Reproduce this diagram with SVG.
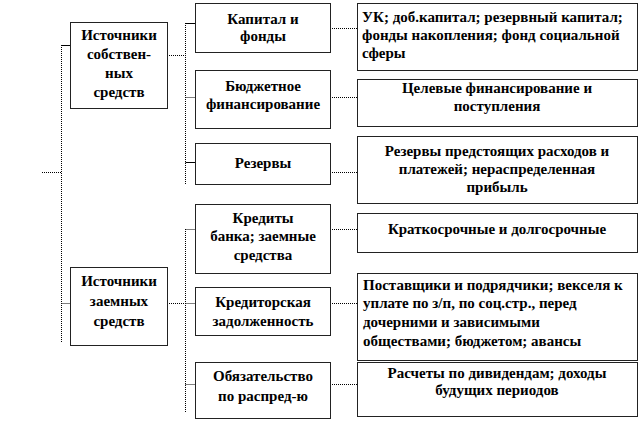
<svg xmlns="http://www.w3.org/2000/svg" width="640" height="422" viewBox="0 0 640 422">
<style>
.box{fill:#fff;stroke:#222;stroke-width:1}
text{font-family:'Liberation Serif',Tinos,'Times New Roman',serif;font-weight:700;font-size:15px;fill:#000}
.c{text-anchor:middle}
.d{fill:none;stroke:#000;stroke-width:1;stroke-dasharray:1,1}
.s{fill:none;stroke:#000;stroke-width:1}
</style>
<rect width="640" height="422" fill="#fff"/>
<g id="connectors">
<path class="d" d="M61.5,45 V342 M42,172.5 H61.5 M61.5,303.5 H70"/>
<path class="s" d="M61.5,45.5 H70"/>
<path class="d" d="M167,55.5 H185.5 M185.5,23 V185 M185.5,97.5 H195"/>
<path class="s" d="M185.5,23.5 H195 M185.5,162.5 H195"/>
<path class="d" d="M167,303.5 H185.5 M185.5,229 V412 M185.5,229.5 H195 M185.5,303.5 H195 M185.5,384.5 H195"/>
<path class="d" d="M330,28.5 H357 M330,97.5 H357 M330,172.5 H357 M330,229.5 H357 M330,303.5 H357 M330,384.5 H357"/>
</g>
<g id="own">
<rect class="box" x="70.5" y="22.5" width="97" height="86"/>
<text class="c" x="119" y="40">Источники</text>
<text class="c" x="119" y="59">собствен-</text>
<text class="c" x="119" y="78">ных</text>
<text class="c" x="119" y="97">средств</text>
</g>
<g id="borrowed">
<rect class="box" x="70.5" y="267.5" width="97" height="78"/>
<text class="c" x="119" y="286">Источники</text>
<text class="c" x="119" y="306">заемных</text>
<text class="c" x="119" y="326">средств</text>
</g>
<g id="capital">
<rect class="box" x="195.5" y="3.5" width="135" height="49"/>
<text class="c" x="263" y="24">Капитал и</text>
<text class="c" x="263" y="41">фонды</text>
</g>
<g id="budget">
<rect class="box" x="195.5" y="70.5" width="135" height="58"/>
<text class="c" x="263" y="91">Бюджетное</text>
<text class="c" x="263" y="109">финансирование</text>
</g>
<g id="reserves">
<rect class="box" x="195.5" y="143.5" width="135" height="41"/>
<text class="c" x="263" y="168">Резервы</text>
</g>
<g id="credits">
<rect class="box" x="195.5" y="204.5" width="135" height="69"/>
<text class="c" x="263" y="223">Кредиты</text>
<text class="c" x="263" y="241">банка; заемные</text>
<text class="c" x="263" y="260">средства</text>
</g>
<g id="payables">
<rect class="box" x="195.5" y="287.5" width="135" height="48"/>
<text class="c" x="263" y="307">Кредиторская</text>
<text class="c" x="263" y="326">задолженность</text>
</g>
<g id="obligation">
<rect class="box" x="195.5" y="362.5" width="135" height="56"/>
<text class="c" x="263" y="381">Обязательство</text>
<text class="c" x="263" y="401">по распред-ю</text>
</g>
<g id="uk">
<rect class="box" x="357.5" y="3.5" width="280" height="67"/>
<text x="362" y="22">УК; доб.капитал; резервный капитал;</text>
<text x="362" y="40">фонды накопления; фонд социальной</text>
<text x="362" y="58">сферы</text>
</g>
<g id="target">
<rect class="box" x="357.5" y="79.5" width="280" height="47"/>
<text class="c" x="497" y="93">Целевые финансирование и</text>
<text class="c" x="497" y="111">поступления</text>
</g>
<g id="reserves-detail">
<rect class="box" x="357.5" y="136.5" width="280" height="67"/>
<text class="c" x="497" y="156">Резервы предстоящих расходов и</text>
<text class="c" x="497" y="174">платежей; нераспределенная</text>
<text class="c" x="497" y="192">прибыль</text>
</g>
<g id="terms">
<rect class="box" x="357.5" y="213.5" width="280" height="39"/>
<text class="c" x="497" y="234">Краткосрочные и долгосрочные</text>
</g>
<g id="suppliers">
<rect class="box" x="357.5" y="273.5" width="280" height="87"/>
<text x="363" y="290">Поставщики  и подрядчики; векселя к</text>
<text x="363" y="308">уплате по з/п, по соц.стр., перед</text>
<text x="363" y="327">дочерними и зависимыми</text>
<text x="363" y="346">обществами; бюджетом; авансы</text>
</g>
<g id="dividends">
<rect class="box" x="357.5" y="362.5" width="280" height="54"/>
<text class="c" x="497" y="378">Расчеты по дивидендам; доходы</text>
<text class="c" x="497" y="395">будущих  периодов</text>
</g>
</svg>
